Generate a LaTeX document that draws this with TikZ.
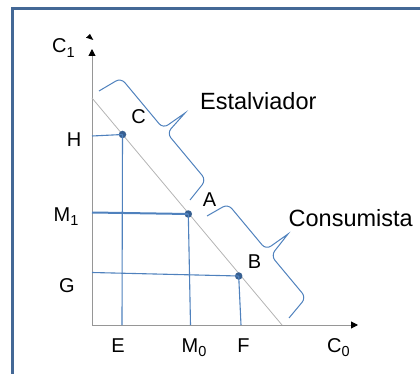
\documentclass[tikz,border=0pt]{standalone}
\usepackage{fontspec}
\setmainfont{Liberation Sans}
\usetikzlibrary{arrows.meta}
\definecolor{frameblue}{RGB}{68,104,150}
\definecolor{lineblue}{RGB}{79,129,189}
\definecolor{dotblue}{RGB}{54,95,145}
\definecolor{axisgray}{RGB}{150,150,150}
\definecolor{budgetgray}{RGB}{180,180,180}
\newcommand{\mysub}[1]{\raisebox{-4.5pt}{\fontsize{14.5}{15}\selectfont #1}}
\begin{document}
\begin{tikzpicture}[x=1pt,y=-1pt,
  lbl/.style={inner sep=0pt, font=\fontsize{20}{24}\selectfont},
  big/.style={inner sep=0pt, font=\fontsize{23.5}{28}\selectfont},
  guide/.style={draw=lineblue, line width=1.1pt},
  dot/.style={circle, fill=dotblue, inner sep=0pt, minimum size=7.5pt},
  axis/.style={draw=axisgray, line width=1pt},
  bracepath/.style={draw=lineblue, line width=1pt, rounded corners=6pt}]
\useasboundingbox (0,0) rectangle (420,374);
\clip (0,0) rectangle (420,374);
\draw[frameblue, line width=2.5pt] (12.5,8.5) rectangle (450,400);
% axes
\coordinate (O) at (92,325);
\coordinate (Ytop) at (92,49);
\coordinate (Xend) at (358,325);
\draw[axis, -{Triangle[length=7pt,width=7pt,color=black]}] (O) -- (Ytop);
\draw[axis, -{Triangle[length=7pt,width=7pt,color=black]}] (O) -- (Xend);
\fill[black] (90,34) -- (86,37.7) -- (93.3,40) -- cycle;
% budget line
\coordinate (Bl1) at (92,98);
\coordinate (Bl2) at (282,325);
\draw[budgetgray, line width=0.8pt] (Bl1) -- (Bl2);
% points
\node[dot] (C) at (122.5,134.5) {};
\node[dot] (A) at (188.3,214) {};
\node[dot] (B) at (238.7,276) {};
\coordinate (Hy) at (92,136);
\coordinate (Ex) at (122,325);
\coordinate (M1y) at (92,212.5);
\coordinate (M0x) at (190.5,325);
\coordinate (Gy) at (92,272.5);
\coordinate (Fx) at (241,325);
\draw[guide] (Hy) -- (C.center);
\draw[guide] (C.center) -- (Ex);
\draw[draw=lineblue, line width=2pt] (M1y) -- (A.center);
\draw[guide] (A.center) -- (M0x);
\draw[guide] (Gy) -- (B.center);
\draw[guide] (B.center) -- (Fx);
% braces
\draw[bracepath] (99,91) -- (121,78) -- (163,128.4) [sharp corners] -- (185,113) [rounded corners=6pt] -- (167,133.2) -- (206,180) -- (190,200);
\draw[bracepath] (207,216) -- (228,204) -- (266,249.6) [sharp corners] -- (288,234) [rounded corners=6pt] -- (271,255.6) -- (306,297.6) -- (289,318);
% labels
\node[lbl, anchor=base west] (lC1) at (52,53) {C\mysub{1}};
\node[lbl, anchor=base] (lH) at (74,147) {H};
\node[lbl, anchor=base west] (lM1) at (53.5,221) {M\mysub{1}};
\node[lbl, anchor=base] (lG) at (67,292) {G};
\node[lbl, anchor=base] (lE) at (118,352) {E};
\node[lbl, anchor=base west] (lM0) at (181.5,352) {M\mysub{0}};
\node[lbl, anchor=base] (lF) at (243.5,352) {F};
\node[lbl, anchor=base west] (lC0) at (327,352) {C\mysub{0}};
\node[lbl, anchor=base] (lC) at (138.5,124) {C};
\node[lbl, anchor=base] (lA) at (209.5,207) {A};
\node[lbl, anchor=base] (lB) at (254.5,268) {B};
\node[big, anchor=base west] (est) at (200,110) {Estalviador};
\node[big, anchor=base west] (con) at (288.5,226) {Consumista};
\end{tikzpicture}
\end{document}
